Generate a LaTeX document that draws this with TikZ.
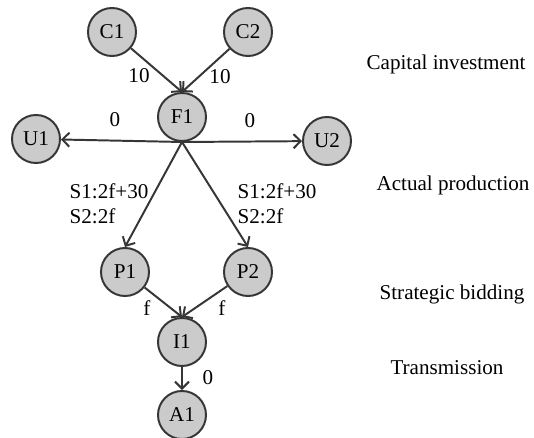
\documentclass[tikz,border=0pt]{standalone}
\usepackage{fontspec}
\setmainfont{Liberation Serif}
\usepackage{tikz}
\usetikzlibrary{arrows.meta}
\definecolor{edgegray}{HTML}{363636}
\definecolor{nodegray}{HTML}{CBCBCB}
\tikzstyle{agent} = [draw=edgegray, fill=nodegray, circle, line width=1.4pt, minimum size=1.2cm, inner sep=0pt]
\tikzstyle{flow} = [draw=edgegray, line width=1.4pt, -{Straight Barb[length=5pt,width=10pt]}]
\tikzstyle{stage} = [anchor=center]

\begin{document}
\begin{tikzpicture}[x=0.025cm, y=-0.025cm, font=\fontsize{15}{18}\selectfont]
	\useasboundingbox (0,0) rectangle (534,438);
	\node[agent](c1) at (112, 32){C1};
	\node[agent](c2) at (248, 32){C2};
	\node[agent](f1) at (182, 117){F1};
	\node[agent](u1) at (36, 139){U1};
	\node[agent](u2) at (327, 141){U2};
	\node[agent](p1) at (125, 272){P1};
	\node[agent](p2) at (248, 272){P2};
	\node[agent](i1) at (182, 342){I1};
	\node[agent](a1) at (182, 415){A1};
	
	\draw[flow](c1) -- (f1.north);
	\draw[flow](c2) -- (f1.north);
	\draw[flow](f1.south) -- (u1);
	\draw[flow](f1.south) -- (u2);
	\draw[flow](f1.south) -- (p1.north);
	\draw[flow](f1.south) -- (p2.north);
	\draw[flow](p1) -- (i1.north);
	\draw[flow](p2) -- (i1.north);
	\draw[flow](i1) -- (a1);
	
	\node(l1) at (139, 76){10};
	\node(l2) at (220, 77){10};
	\node(l3) at (115, 120){0};
	\node(l4) at (250, 121){0};
	\node[align=left, font=\fontsize{15}{17.7}\selectfont](l5) at (109, 204){S1:2f+30\\S2:2f};
	\node[align=left, font=\fontsize{15}{17.7}\selectfont](l6) at (277, 204){S1:2f+30\\S2:2f};
	\node(l7) at (147, 308){f};
	\node(l8) at (222, 308){f};
	\node(l9) at (208, 378){0};
	
	\node[stage](s1) at (446, 64){Capital investment};
	\node[stage](s2) at (453, 185){Actual production};
	\node[stage](s3) at (452, 294){Strategic bidding};
	\node[stage](s4) at (447, 368){Transmission};
\end{tikzpicture}
\end{document}
